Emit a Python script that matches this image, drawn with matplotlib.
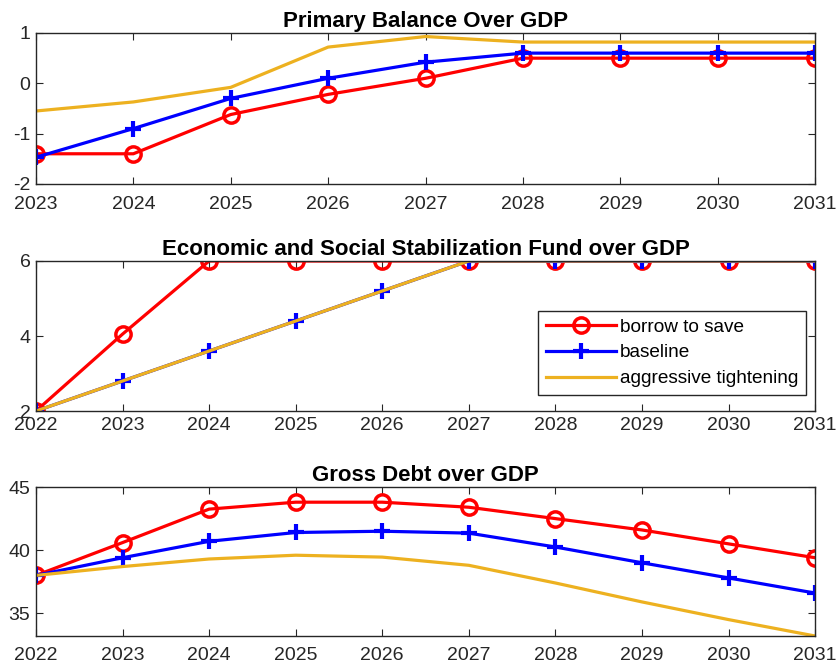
import matplotlib
matplotlib.use('Agg')
import matplotlib.pyplot as plt

plt.rcParams['font.family'] = ['Liberation Sans', 'DejaVu Sans']
plt.rcParams['axes.unicode_minus'] = False

# primary balance, 2023-2031
years_pb = [2023, 2024, 2025, 2026, 2027, 2028, 2029, 2030, 2031]
pb_borrow = [-1.4, -1.4, -0.62, -0.22, 0.1, 0.5, 0.5, 0.5, 0.5]
pb_base = [-1.47, -0.9, -0.3, 0.1, 0.42, 0.6, 0.6, 0.6, 0.6]
pb_tight = [-0.55, -0.37, -0.08, 0.72, 0.93, 0.82, 0.82, 0.82, 0.82]

# stabilization fund, 2022-2031
years = [2022, 2023, 2024, 2025, 2026, 2027, 2028, 2029, 2030, 2031]
fund_borrow = [2.0, 4.05, 6, 6, 6, 6, 6, 6, 6, 6]
fund_base = [2.0, 2.8, 3.6, 4.4, 5.2, 6, 6, 6, 6, 6]
fund_tight = [2.0, 2.8, 3.6, 4.4, 5.2, 6, 6, 6, 6, 6]

# gross debt, 2022-2031
debt_borrow = [38.0, 40.6, 43.25, 43.8, 43.8, 43.4, 42.5, 41.6, 40.5, 39.4]
debt_base = [38.0, 39.4, 40.7, 41.4, 41.5, 41.35, 40.25, 39.0, 37.8, 36.6]
debt_tight = [38.0, 38.7, 39.3, 39.6, 39.45, 38.8, 37.4, 35.9, 34.5, 33.2]

red, blue, gold = '#ff0000', '#0000ff', '#edb120'
txt = '#262626'

fig = plt.figure(figsize=(8.36, 6.68), dpi=100)
ax1 = fig.add_axes([0.043, 0.7246, 0.932, 0.226])
ax2 = fig.add_axes([0.043, 0.3847, 0.932, 0.2246])
ax3 = fig.add_axes([0.043, 0.0479, 0.932, 0.223])


def draw(ax, x, a, b, c):
    ax.plot(x, a, '-o', color=red, lw=2.3, ms=11, mew=2.5, mfc='none', label='borrow to save')
    ax.plot(x, b, '-+', color=blue, lw=2.3, ms=12, mew=3, label='baseline')
    ax.plot(x, c, '-', color=gold, lw=2.3, label='aggressive tightening')


draw(ax1, years_pb, pb_borrow, pb_base, pb_tight)
ax1.set_xlim(2023, 2031)
ax1.set_ylim(-2, 1)
ax1.set_yticks([-2, -1, 0, 1])
ax1.set_title('Primary Balance Over GDP', fontsize=16, fontweight='bold', color='k', pad=4)

draw(ax2, years, fund_borrow, fund_base, fund_tight)
ax2.set_xlim(2022, 2031)
ax2.set_ylim(2, 6)
ax2.set_yticks([2, 4, 6])
ax2.set_title('Economic and Social Stabilization Fund over GDP', fontsize=16, fontweight='bold', color='k', pad=4)
leg = ax2.legend(loc='lower right', bbox_to_anchor=(0.9641, 0.4087), bbox_transform=fig.transFigure,
                 fontsize=13.7, fancybox=False, framealpha=1, edgecolor='#262626',
                 handlelength=3.7, borderaxespad=0, borderpad=0.4,
                 labelspacing=0.45, handletextpad=0.2)
leg.get_frame().set_linewidth(1)

draw(ax3, years, debt_borrow, debt_base, debt_tight)
ax3.set_xlim(2022, 2031)
ax3.set_ylim(33.2, 45)
ax3.set_yticks([35, 40, 45])
ax3.set_title('Gross Debt over GDP', fontsize=16, fontweight='bold', color='k', pad=4)

for ax, xpad in ((ax1, 9), (ax2, 4), (ax3, 8)):
    ax.set_xticks(range(int(ax.get_xlim()[0]), 2032))
    ax.tick_params(direction='in', top=True, right=True, labelsize=14, colors=txt, length=5)
    ax.tick_params(axis='x', pad=xpad)
    ax.tick_params(axis='y', pad=4)
    for s in ax.spines.values():
        s.set_color(txt)
        s.set_linewidth(1)

fig.savefig('out.png', dpi=100)
